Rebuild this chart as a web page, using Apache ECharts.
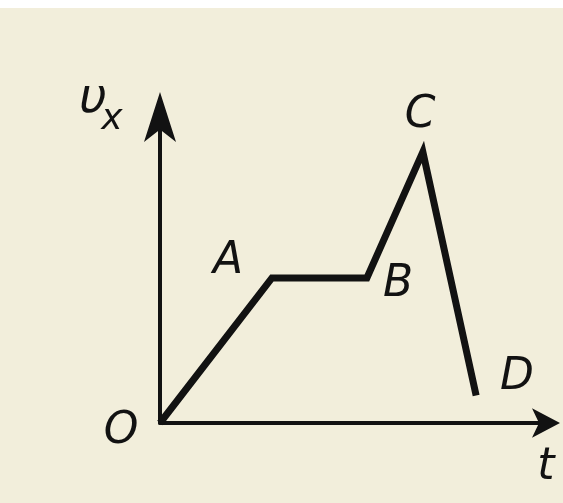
<!DOCTYPE html>
<html>
<head>
<meta charset="utf-8">
<script src="https://cdn.jsdelivr.net/npm/echarts@6/dist/echarts.min.js"></script>
<style>
  html, body { margin: 0; padding: 0; background: #fff; }
  #chart { width: 563px; height: 503px; }
</style>
</head>
<body>
<div id="chart"></div>
<script>
// points O, A, B, C, D of the v_x(t) graph (arbitrary units, axes 0..100)
const pointNames = ['O', 'A', 'B', 'C', 'D']
const times = [0, 29, 53.6, 68.1, 81.9]
const velocities = [0, 47.4, 47.4, 88.6, 9]
const axisNames = { y: 'υ', ySub: 'x', x: 't' }

const chart = echarts.init(document.getElementById('chart'))

const ink = '#121212'
const letterFont = {
  fontFamily: 'DejaVu Sans',
  fontStyle: 'italic',
  fontSize: 44,
  fill: ink
}

function letter(text, x, y, size) {
  return {
    type: 'text',
    x: x,
    y: y,
    z: 10,
    style: Object.assign({}, letterFont, {
      text: text,
      fontSize: size || letterFont.fontSize,
      textAlign: 'center',
      textVerticalAlign: 'middle'
    })
  }
}

const option = {
  animation: false,
  backgroundColor: '#f2eedb',
  grid: { left: 160, right: 17, top: 117, bottom: 80 },
  xAxis: {
    type: 'value',
    min: 0,
    max: 100,
    axisLine: {
      lineStyle: { color: ink, width: 4 },
      symbol: ['none', 'arrow'],
      symbolSize: [22, 28],
      symbolOffset: [0, 14]
    },
    axisTick: { show: false },
    axisLabel: { show: false },
    splitLine: { show: false }
  },
  yAxis: {
    type: 'value',
    min: 0,
    max: 100,
    axisLine: {
      show: true,
      lineStyle: { color: ink, width: 4 },
      symbol: ['none', 'arrow'],
      symbolSize: [24, 50],
      symbolOffset: [0, 25]
    },
    axisTick: { show: false },
    axisLabel: { show: false },
    splitLine: { show: false }
  },
  series: [
    {
      type: 'line',
      data: times.map((t, i) => [t, velocities[i]]),
      showSymbol: false,
      lineStyle: { color: ink, width: 7, join: 'miter', cap: 'butt' }
    }
  ],
  graphic: [
    { type: 'rect', shape: { x: 0, y: 0, width: 563, height: 8 }, style: { fill: '#ffffff' }, z: 0 },
    letter(axisNames.y, 93, 100, 48),
    letter(axisNames.ySub, 112, 120, 36),
    letter(axisNames.x, 546, 468, 44),
    letter(pointNames[0], 121, 432, 44),
    letter(pointNames[1], 228, 262),
    letter(pointNames[2], 398, 285),
    letter(pointNames[3], 420, 116),
    letter(pointNames[4], 517, 378)
  ]
}

chart.setOption(option)
</script>
</body>
</html>
